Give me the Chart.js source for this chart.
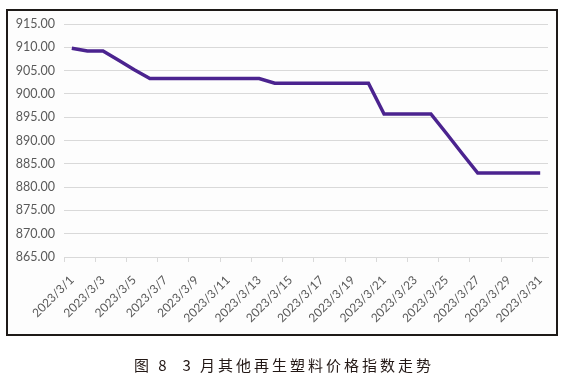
<!DOCTYPE html>
<html>
<head>
<meta charset="utf-8">
<script src="https://cdn.jsdelivr.net/npm/chart.js@4/dist/chart.umd.min.js"></script>
<style>
  html, body { margin: 0; padding: 0; background: #fff; }
  #wrap { position: relative; width: 575px; height: 387px; }
  #frame {
    position: absolute; left: 6px; top: 9px; width: 548px; height: 323px;
    border: 2.5px solid #1e1a18; background: #fdfdfd;
  }
  #myChart { position: absolute; left: 0; top: 0; }
  #caption {
    position: absolute; left: 134px; top: 356px; line-height: 18px; white-space: pre;
    font-family: "Noto Sans CJK SC", sans-serif; font-size: 15px; letter-spacing: 3px; color: #231815;
  }
</style>
</head>
<body>
<div id="wrap">
  <div id="frame"></div>
  <canvas id="myChart" width="575" height="387"></canvas>
  <div id="caption">图 8  3 月其他再生塑料价格指数走势</div>
</div>
<script>
// 日期
var dates = [];
for (var d = 1; d <= 31; d++) dates.push('2023/3/' + d);

// 其他再生塑料价格指数
var indexValues = [
    909.8, 909.2, 909.2, 907.2, 905.2, 903.3, 903.3, 903.3, 903.3, 903.3,
    903.3, 903.3, 903.3, 902.3, 902.3, 902.3, 902.3, 902.3, 902.3, 902.3,
    895.7, 895.7, 895.7, 895.7, 891.5, 887.2, 883.0, 883.0, 883.0, 883.0,
    883.0
];

var yMin = 865, yMax = 915, yStep = 5;

const ctx = document.getElementById('myChart');

new Chart(ctx, {
    type: 'line',
    data: {
        labels: dates,
        datasets: [{
            label: '价格指数',
            data: indexValues,
            borderColor: '#4b238f',
            borderWidth: 3.5,
            pointRadius: 0,
            tension: 0
        }]
    },
    options: {
        responsive: false,
        animation: false,
        layout: {
            padding: { left: 0, top: 24, right: 27, bottom: 0 }
        },
        plugins: {
            legend: { display: false },
            tooltip: { enabled: false }
        },
        scales: {
            x: {
                offset: true,
                grid: {
                    offset: true,
                    drawOnChartArea: false,
                    drawTicks: true,
                    tickLength: 5,
                    color: function (c) { return c.index % 2 === 0 ? '#d9d9d9' : 'rgba(0,0,0,0)'; }
                },
                border: { color: '#d9d9d9', width: 1 },
                ticks: {
                    autoSkip: false,
                    minRotation: 45,
                    maxRotation: 45,
                    color: '#595959',
                    font: { family: 'Lato', size: 12 },
                    padding: 11,
                    callback: function (val, i) { return i % 2 === 0 ? dates[i] : ''; }
                },
                afterFit: function (scale) { scale.height = 130; }
            },
            y: {
                min: yMin,
                max: yMax,
                grid: { color: '#d9d9d9', drawTicks: false },
                border: { display: false },
                ticks: {
                    stepSize: yStep,
                    color: '#595959',
                    padding: 9,
                    font: { family: 'Lato', size: 12.5 },
                    callback: function (v) { return v.toFixed(2); }
                },
                afterFit: function (scale) { scale.width = 64; }
            }
        }
    }
});
</script>
</body>
</html>
